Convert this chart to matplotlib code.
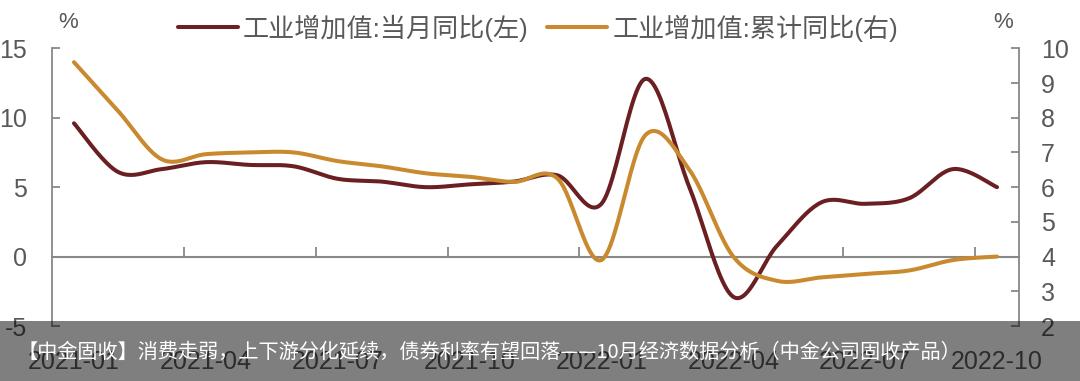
import numpy as np
import matplotlib
matplotlib.use("Agg")
import matplotlib.pyplot as plt
from matplotlib.lines import Line2D
from matplotlib.patches import Rectangle

plt.rcParams['font.family'] = ['Liberation Sans', 'Noto Sans CJK SC', 'DejaVu Sans']
plt.rcParams['axes.unicode_minus'] = False

# data
months = ['2021-01', '2021-02', '2021-03', '2021-04', '2021-05', '2021-06',
          '2021-07', '2021-08', '2021-09', '2021-10', '2021-11', '2021-12',
          '2022-01', '2022-02', '2022-03', '2022-04', '2022-05', '2022-06',
          '2022-07', '2022-08', '2022-09', '2022-10']
monthly_yoy = [9.6, 6.1, 6.3, 6.8, 6.6, 6.5, 5.6, 5.4, 5.0, 5.2, 5.4, 5.85,
               3.8, 12.8, 5.0, -2.9, 0.8, 3.9, 3.8, 4.2, 6.3, 5.0]
cum_yoy = [9.6, 8.2, 6.8, 6.95, 7.0, 7.0, 6.75, 6.6, 6.4, 6.3, 6.15, 6.25,
           3.9, 7.5, 6.5, 4.0, 3.3, 3.4, 3.5, 3.6, 3.9, 4.0]
label_left = '工业增加值:当月同比(左)'
label_right = '工业增加值:累计同比(右)'
banner = '【中金固收】消费走弱，上下游分化延续，债券利率有望回落——10月经济数据分析（中金公司固收产品）'

c_dark = '#6a1f22'
c_gold = '#c9892e'
c_axis = '#888888'
c_text = '#595959'


def smooth(y, n=24):
    # catmull-rom curve through the points, like a "smoothed line" chart
    y = np.asarray(y, dtype=float)
    x = np.arange(len(y), dtype=float)
    xp = np.concatenate([[x[0]], x, [x[-1]]])
    yp = np.concatenate([[y[0]], y, [y[-1]]])
    xs, ys = [], []
    t = np.linspace(0, 1, n, endpoint=False)
    for i in range(len(y) - 1):
        p0, p1, p2, p3 = yp[i], yp[i + 1], yp[i + 2], yp[i + 3]
        q0, q1, q2, q3 = xp[i], xp[i + 1], xp[i + 2], xp[i + 3]
        cy = 0.5 * ((2 * p1) + (-p0 + p2) * t + (2 * p0 - 5 * p1 + 4 * p2 - p3) * t ** 2
                    + (-p0 + 3 * p1 - 3 * p2 + p3) * t ** 3)
        cx = 0.5 * ((2 * q1) + (-q0 + q2) * t + (2 * q0 - 5 * q1 + 4 * q2 - q3) * t ** 2
                    + (-q0 + 3 * q1 - 3 * q2 + q3) * t ** 3)
        xs.append(cx)
        ys.append(cy)
    xs.append([x[-1]])
    ys.append([y[-1]])
    return np.concatenate(xs), np.concatenate(ys)


fig = plt.figure(figsize=(10.8, 3.81), dpi=100)
ax = fig.add_axes([52 / 1080, 1 - 326 / 381, (1019 - 52) / 1080, (326 - 48.3) / 381])
ax2 = ax.twinx()

sx, sy = smooth(monthly_yoy)
ax.plot(sx, sy, color=c_dark, lw=2.9, solid_capstyle='round')
sx, sy = smooth(cum_yoy)
ax2.plot(sx, sy, color=c_gold, lw=2.9, solid_capstyle='round')

n = len(months)
ax.set_xlim(-0.5, n - 0.5)
ax.set_ylim(-5, 15)
ax2.set_ylim(2, 10)
ax.set_yticks([-5, 0, 5, 10, 15])
ax2.set_yticks(range(2, 11))

for a in (ax, ax2):
    for s in ('top', 'bottom'):
        a.spines[s].set_visible(False)
    a.spines['left'].set_visible(a is ax)
    a.spines['right'].set_visible(a is ax2)
ax.spines['left'].set_color(c_axis)
ax.spines['left'].set_linewidth(1.3)
ax2.spines['right'].set_color(c_axis)
ax2.spines['right'].set_linewidth(1.3)

ax.tick_params(axis='y', direction='in', length=6, width=1.3, color=c_axis,
               labelsize=18, labelcolor=c_text, pad=18)
ax2.tick_params(axis='y', direction='in', length=6, width=1.3, color=c_axis,
                labelsize=18, labelcolor=c_text, pad=16)

ax.set_xticks(range(0, n, 3))
ax.set_xticklabels(months[::3])
ax.tick_params(axis='x', length=0, labelsize=18, labelcolor=c_text, pad=17)

# category axis crossing at zero, ticks between categories
sec = ax.secondary_xaxis(0.25)
sec.set_xticks(np.arange(3, n, 3) - 0.5)
sec.tick_params(axis='x', direction='in', length=7, width=1.3, color=c_axis,
                labelbottom=False)
sec.spines['bottom'].set_color(c_axis)
sec.spines['bottom'].set_linewidth(1.5)
for s in ('top', 'left', 'right'):
    sec.spines[s].set_visible(False)

fig.text(68 / 1080, 1 - 23 / 381, '%', fontsize=16, color=c_text, ha='center', va='center')
fig.text(1003 / 1080, 1 - 22 / 381, '%', fontsize=16, color=c_text, ha='center', va='center')

handles = [Line2D([], [], color=c_dark, lw=2.9, solid_capstyle='round'),
           Line2D([], [], color=c_gold, lw=2.9, solid_capstyle='round')]
leg = fig.legend(handles, [label_left, label_right], loc='center', ncol=2,
                 bbox_to_anchor=(538 / 1080, 1 - 28 / 381), frameon=False,
                 fontsize=18.8, handlelength=2.3, handletextpad=0.2,
                 columnspacing=0.7, borderpad=0)
for t in leg.get_texts():
    t.set_color(c_text)

fig.add_artist(Rectangle((0, 0), 1, 60 / 381, transform=fig.transFigure,
                         facecolor='black', alpha=0.5, edgecolor='none', zorder=10))
fig.text(18 / 1080, 1 - 352 / 381, banner, fontsize=14.5, color='white',
         ha='left', va='center', zorder=11,
         family=['Noto Sans CJK SC', 'DejaVu Sans'])

fig.savefig('out.png', dpi=100)
